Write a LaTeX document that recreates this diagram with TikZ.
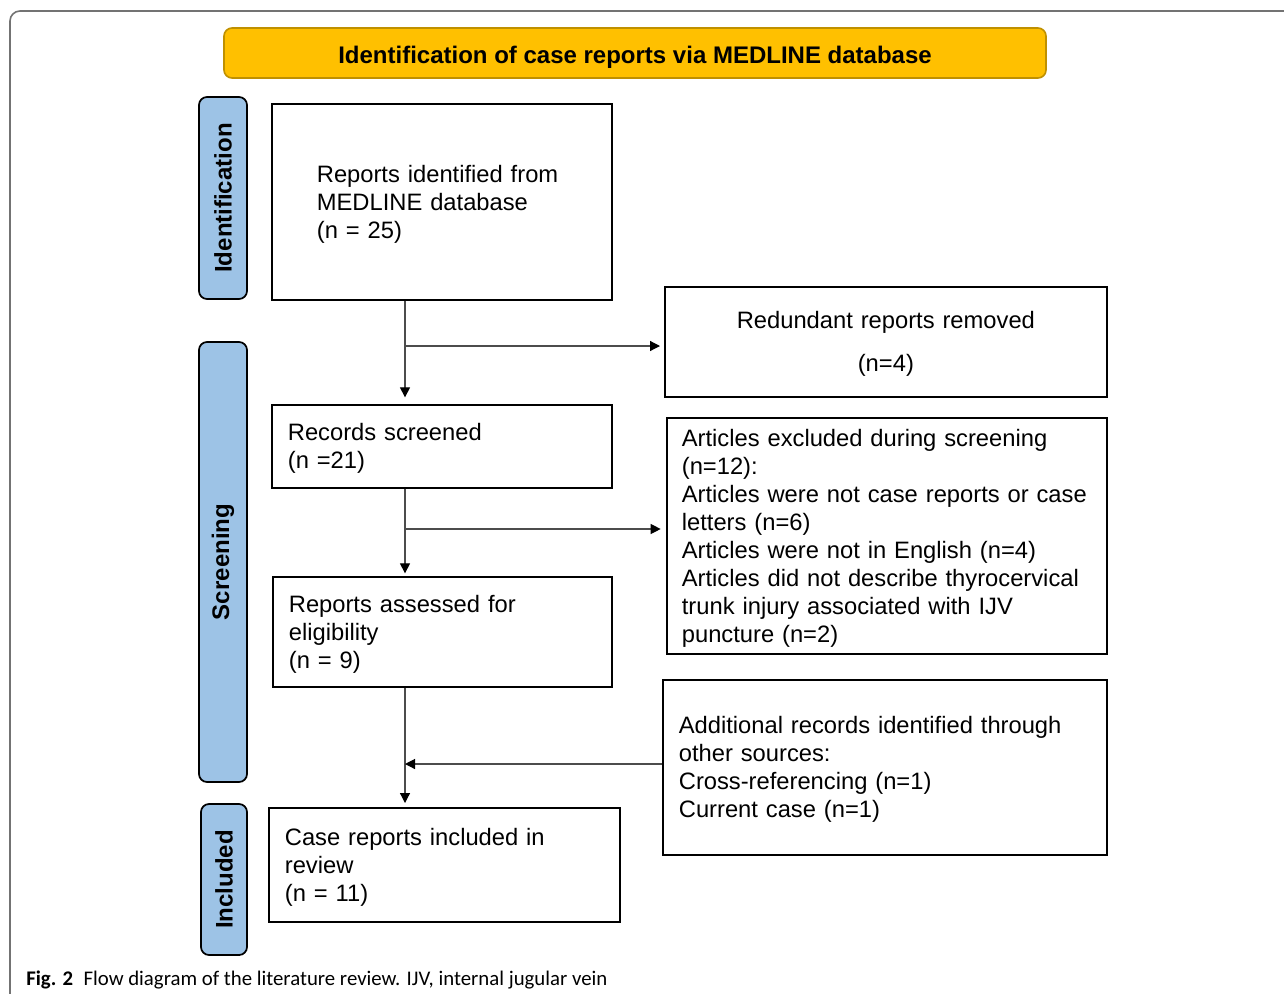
\documentclass[tikz,border=0pt]{standalone}
\usepackage{fontspec}
\setmainfont{Liberation Sans}
\newfontfamily\capfont{Carlito}
\usetikzlibrary{arrows.meta,positioning}
\definecolor{titlegold}{HTML}{FFC000}
\definecolor{titleedge}{HTML}{BF9000}
\definecolor{stageblue}{HTML}{9DC3E6}

\begin{document}
\begin{tikzpicture}[x=0.75pt,y=-0.75pt,
        box/.style={draw,line width=1.3pt,anchor=north west,align=left,
            font=\fontsize{17.8}{21}\selectfont,
            execute at begin node={\rule{0pt}{16pt}}},
        stage/.style={draw,line width=1.3pt,fill=stageblue,rounded corners=6pt,
            rotate=90,minimum height=36pt,inner sep=0pt,
            font=\bfseries\fontsize{18}{21}\selectfont},
        arr/.style={draw=black!70,line width=0.9pt,
            -{Triangle[length=7.5pt,width=7.5pt,color=black]}}]
    \useasboundingbox (0,0) rectangle (1284,993);
    \draw[black!55,line width=1.2pt,rounded corners=7.5pt] (1300,11) -- (10,11) -- (10,1010);

\node[draw=titleedge,fill=titlegold,line width=1.2pt,rounded corners=6pt,
    minimum width=616.5pt,minimum height=37.5pt,text height=19pt,
    font=\bfseries\fontsize{18}{21}\selectfont] (title) at (635,53)
    {Identification of case reports via MEDLINE database};

\node[stage,minimum width=151.5pt] (sid) at (223,198) {Identification};
\node[stage,minimum width=330pt] (sscr) at (223,562) {Screening};
\node[stage,minimum width=113.25pt,minimum height=34.5pt] (sinc) at (224,879.5) {Included};

\node[box,minimum width=255pt,minimum height=147pt,text width=187.5pt] (idf) at (271,103)
    {Reports identified from\\MEDLINE database\\(n = 25)};
\node[box,align=center,minimum width=331.5pt,minimum height=82.5pt,text width=300pt] (red) at (664,286)
    {Redundant reports removed\\[11pt](n=4)};
\node[box,minimum width=255pt,minimum height=62.25pt,text width=231pt] (scr) at (271,404)
    {Records screened\\(n =21)};
\node[box,minimum width=330pt,minimum height=177pt,text width=307.5pt] (exc) at (666,417)
    {Articles excluded during screening\\(n=12):\\Articles were not case reports or case\\letters (n=6)\\Articles were not in English (n=4)\\Articles did not describe thyrocervical\\trunk injury associated with IJV\\puncture (n=2)};
\node[box,minimum width=254.25pt,minimum height=82.5pt,text width=230.25pt] (ass) at (272,576)
    {Reports assessed for\\eligibility\\(n = 9)};
\node[box,minimum width=333pt,minimum height=131.25pt,text width=309pt] (add) at (662,679)
    {Additional records identified through\\other sources:\\Cross-referencing (n=1)\\Current case (n=1)};
\node[box,minimum width=263.25pt,minimum height=85.5pt,text width=239.25pt] (inc) at (268,807)
    {Case reports included in\\review\\(n = 11)};

\coordinate (j1) at (405,346);
\coordinate (j2) at (405,529);
\coordinate (j3) at (405,764);
\draw[arr,shorten >=5pt] (idf.south -| j1) -- (scr.north -| j1);
\draw[arr,shorten >=3pt] (j1) -- (red.west |- j1);
\draw[arr,shorten >=2pt] (scr.south -| j2) -- (ass.north -| j2);
\draw[arr,shorten >=4pt] (j2) -- (exc.west |- j2);
\draw[arr,shorten >=3pt] (ass.south -| j3) -- (inc.north -| j3);
\draw[arr] (add.west |- j3) -- (j3);

\node[anchor=base west,inner sep=0pt,font=\capfont\fontsize{15.6}{18}\selectfont] (cap) at (26,985)
    {\textbf{Fig. 2}\enspace Flow diagram of the literature review. IJV, internal jugular vein};
\end{tikzpicture}
\end{document}
